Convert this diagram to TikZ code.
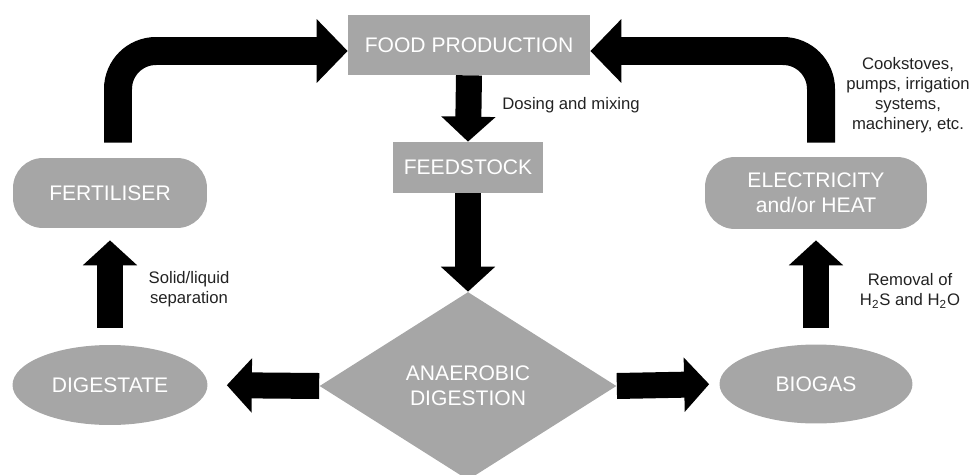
\documentclass[tikz,border=0pt]{standalone}
\usepackage{fontspec}
\setmainfont{Liberation Sans}
\usepackage{xcolor}
\usepackage{tikz}
\usetikzlibrary{arrows.meta}
\usetikzlibrary{shapes}
\usetikzlibrary{positioning}
\usetikzlibrary{shapes.geometric}
\definecolor{boxgray}{HTML}{A6A6A6}
\definecolor{labelgray}{HTML}{222222}
\tikzset{
    mybox/.style = {rectangle, fill=boxgray, text=white, align=center, inner sep=0pt, font=\fontsize{12}{14}\selectfont},
    myround/.style = {mybox, rounded corners=0.6cm},
    myellipse/.style = {ellipse, fill=boxgray, text=white, align=center, inner sep=0pt, font=\fontsize{12}{14}\selectfont},
    mydiamond/.style = {diamond, fill=boxgray, text=white, align=center, inner sep=0pt, font=\fontsize{12}{14}\selectfont},
    mylabel/.style = {align=center, text=labelgray, inner sep=0pt, font=\fontsize{9.5}{11.5}\selectfont},
    myarrow/.style = {line width=0.52cm, -{Triangle[width=1.06cm,length=0.5cm]}},
    mybend/.style = {line width=0.56cm, rounded corners=0.76cm, -{Triangle[width=1.24cm,length=0.62cm]}},
}

\begin{document}
\begin{tikzpicture}[x=0.02cm, y=-0.02cm]
  \useasboundingbox (0,0) rectangle (971,474);
  \node[mybox, minimum width=4.84cm, minimum height=1.2cm] (food) at (469,45) {FOOD PRODUCTION};
  \node[mybox, minimum width=3cm, minimum height=1.02cm] (feed) at (468,167.5) {FEEDSTOCK};
  \node[mydiamond, minimum width=5.94cm, minimum height=3.76cm] (ad) at (468,386) {ANAEROBIC\\DIGESTION};
  \node[myellipse, minimum width=3.9cm, minimum height=1.6cm] (dig) at (110,385) {DIGESTATE};
  \node[myellipse, minimum width=3.86cm, minimum height=1.58cm] (bio) at (816,384) {BIOGAS};
  \node[myround, minimum width=3.88cm, minimum height=1.4cm] (fert) at (110,193) {FERTILISER};
  \node[myround, minimum width=4.44cm, minimum height=1.44cm] (elec) at (816,193) {ELECTRICITY\\and/or HEAT};

  \draw[myarrow] (food.south) -- (feed.north);
  \draw[myarrow] (feed.south) -- (ad.north);
  \draw[myarrow, shorten >=0.38cm] (ad.west) -- (dig.east);
  \draw[myarrow, shorten >=0.2cm] (ad.east) -- (bio.west);
  \draw[myarrow, shorten <=0.34cm, shorten >=0.24cm] (dig.north) -- (fert.south);
  \draw[myarrow, shorten <=0.32cm, shorten >=0.22cm] (bio.north) -- (elec.south);
  \draw[mybend, shorten <=0.3cm] ([xshift=0.16cm]fert.north) |- ([yshift=-0.12cm]food.west);
  \draw[mybend, shorten <=0.28cm] ([xshift=0.1cm]elec.north) |- ([yshift=-0.12cm]food.east);

  \node[mylabel, anchor=west] (dosing) at (502,105) {Dosing and mixing};
  \node[mylabel] (solid) at (189,289) {Solid/liquid\\separation};
  \node[mylabel] (removal) at (910,290.5) {Removal of\\H\textsubscript{2}S and H\textsubscript{2}O};
  \node[mylabel] (uses) at (908,95) {Cookstoves,\\pumps, irrigation\\systems,\\machinery, etc.};
\end{tikzpicture}
\end{document}
